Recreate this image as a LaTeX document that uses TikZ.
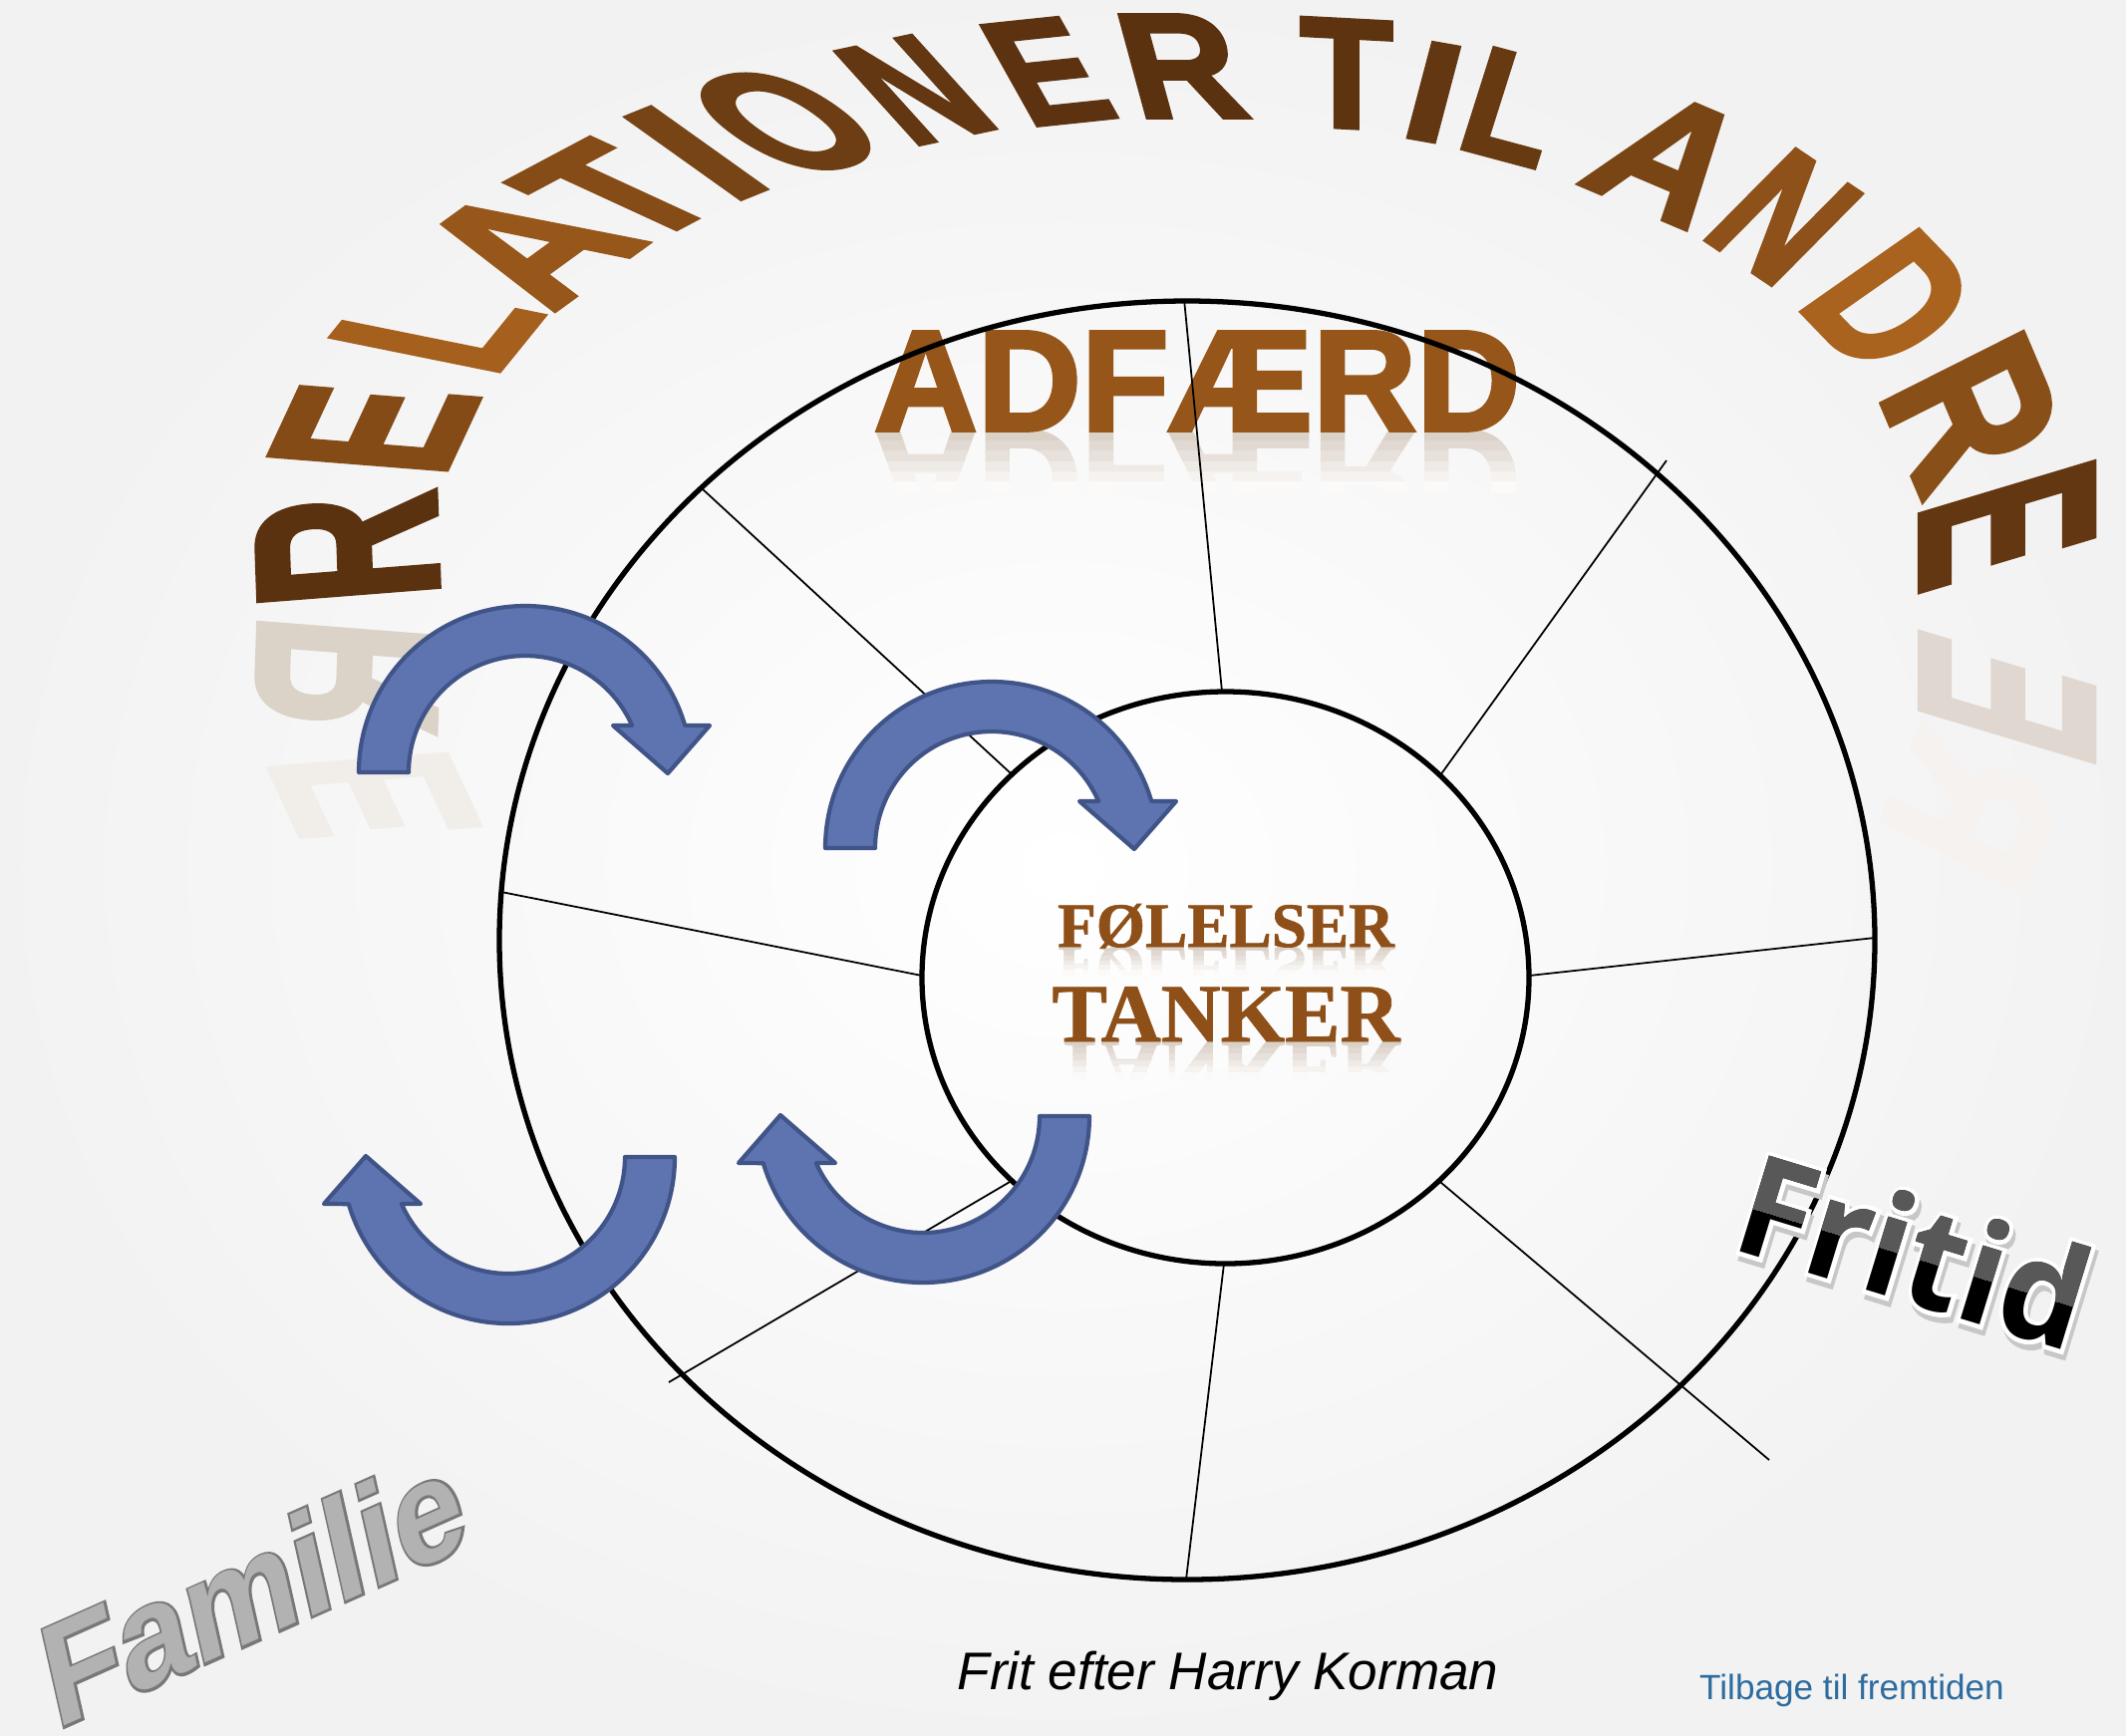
\documentclass[tikz,border=0pt]{standalone}
\usepackage{fontspec}
\setmainfont{Liberation Serif}
\newfontfamily\arialfont{Liberation Sans}
\newfontfamily\archfamily[FakeBold=2.5]{Liberation Sans}
\newfontfamily\boldserif[FakeBold=1]{Liberation Serif}
\newfontfamily\familieedge[FakeBold=3.5]{Liberation Sans}
\newfontfamily\fritidfont{Open Sans}
\newfontfamily\fritidhalo[FakeBold=6]{Open Sans}
\usetikzlibrary{positioning}

\definecolor{titledark}{RGB}{91,50,16}
\definecolor{titlebright}{RGB}{172,100,30}
\definecolor{reflbrown}{RGB}{208,196,183}
\definecolor{wordbrown}{RGB}{150,86,26}
\definecolor{centrebrown}{RGB}{142,80,24}
\definecolor{arrowfill}{RGB}{94,116,177}
\definecolor{arrowline}{RGB}{65,84,136}
\definecolor{familiegray}{RGB}{178,178,178}
\definecolor{familieline}{RGB}{120,120,120}
\definecolor{fritidgray}{RGB}{88,88,88}
\definecolor{linkblue}{RGB}{46,108,160}

\newcommand\titlefont{\archfamily\bfseries\fontsize{40}{40}\selectfont}
\newcommand\adfaerdfont{\archfamily\bfseries\fontsize{41}{42}\selectfont}

% widths of the title letters, taken before the picture
\newcommand\measureletter[1]{%
  \setbox0=\hbox{\titlefont #1}%
  \expandafter\xdef\csname ltw#1\endcsname{\the\wd0}}

% one letter of the arch: char, baseline mid x/y, top mid x/y, baseline angle, width
\newif\ifmirror
\newcommand\archletter[7]{%
  \edef\ltw{\csname ltw#1\endcsname}%
  \pgfmathsetmacro\lta{1.04*#7*0.284528*cos(#6)/\ltw}%
  \pgfmathsetmacro\ltb{1.04*#7*0.284528*sin(#6)/\ltw}%
  \pgfmathsetmacro\ltc{(#4-#2)*0.284528/\lth}%
  \pgfmathsetmacro\ltd{-(#5-#3)*0.284528/\lth}%
  \pgfmathsetmacro\ltx{#2-0.52*#7*cos(#6)}%
  \pgfmathsetmacro\lty{#3+0.52*#7*sin(#6)}%
  \pgfmathsetmacro\ltcy{(#3+#5)/2}%
  \ifmirror
    \pgfmathtruncatemacro\ltpc{max(0,min(100,100-(614-\ltcy)/2.6))}%
    \colorlet{lettercol}{reflbrown!\ltpc!white}%
  \else
    \pgfmathtruncatemacro\ltpc{min(100,abs(\ltcy-310)/2.4)}%
    \colorlet{lettercol}{titledark!\ltpc!titlebright}%
  \fi
  \ifnum\ltpc>0
  \begin{scope}[shift={(\ltx,\lty)}, cm={\lta,\ltb,\ltc,\ltd,(0,0)}]
    \node[anchor=base west, inner sep=0pt, transform shape, text=lettercol, font=\titlefont] at (0,0) {#1};
  \end{scope}
  \fi}

\newcommand\titleletters{%
  \archletter{R}{438}{545}{259}{559}{92}{106}
  \archletter{E}{463}{438}{286}{424}{65}{91}
  \archletter{L}{521}{347}{353}{313}{51}{83}
  \archletter{A}{603}{278}{456}{217}{36}{120}
  \archletter{T}{688}{225}{549}{161}{28}{97}
  \archletter{I}{755}{195}{640}{113}{22}{50}
  \archletter{O}{849}{165}{727}{79}{17}{110}
  \archletter{N}{960}{137}{876}{44}{12}{93}
  \archletter{E}{1078}{122}{1022}{22}{6}{92}
  \archletter{R}{1198}{118}{1170}{15}{0}{112}
  \archletter{T}{1350}{128}{1350}{20}{-3}{90}
  \archletter{I}{1425}{140}{1450}{45}{-10}{48}
  \archletter{L}{1500}{158}{1532}{57}{-15}{86}
  \archletter{A}{1637}{207}{1713}{110}{-23}{121}
  \archletter{N}{1744}{263}{1834}{172}{-34}{95}
  \archletter{D}{1838}{344}{1955}{262}{-46}{105}
  \archletter{R}{1907}{449}{2048}{378}{-67}{116}
  \archletter{E}{1927}{552}{2100}{500}{-90}{90}}

% fading mirror image of a word: x, baseline y, depth, font, text
\newcommand\reflectword[5]{%
  \foreach \k in {0,...,5}{%
    \pgfmathsetmacro\rwt{#2+\k*#3/6}%
    \pgfmathsetmacro\rwb{#2+(\k+1)*#3/6+0.6}%
    \pgfmathtruncatemacro\rwp{78-14*\k}%
    \begin{scope}
      \clip (#1-420,\rwt) rectangle (#1+420,\rwb);
      \node[wordart, yscale=-1, text=reflbrown!\rwp!white, font=#4] at (#1,#2) {#5};
    \end{scope}}}

\tikzset{
  ring/.style={draw=black, line width=1.5pt},
  spoke/.style={draw=black, line width=0.5pt},
  wordart/.style={inner sep=0pt, anchor=base, text=wordbrown},
  arrowbody/.style={fill=arrowfill, draw=arrowline, line width=1.2pt, line join=round},
  turn arrow/.pic={
    \path[arrowbody] (180:167) arc[start angle=180, end angle=343.6, radius=167]
      -- (185,-47) -- (143,1) -- (88,-47) -- (336.3:117)
      arc[start angle=336.3, end angle=180, radius=117] -- cycle;
  }
}

\begin{document}
\measureletter{R}\measureletter{E}\measureletter{L}\measureletter{A}\measureletter{T}%
\measureletter{I}\measureletter{O}\measureletter{N}\measureletter{D}%
\setbox2=\hbox{\titlefont H}\xdef\lth{\the\ht2}%
\begin{tikzpicture}[x=0.01cm, y=-0.01cm]
\useasboundingbox (0,0) rectangle (2133,1741);
\shade[inner color=white, outer color=black!5] (0,0) rectangle (2133,1741);

% title on the arch and its mirror image
\begin{scope}[shift={(0,1228)}, yscale=-1]
  \mirrortrue
  \titleletters
\end{scope}
\titleletters

% ADFÆRD with reflection
\reflectword{1201}{432}{62}{\adfaerdfont}{ADFÆRD}
\node[wordart, font=\adfaerdfont] (adfaerd) at (1201,432) {ADFÆRD};

% the wheel
\coordinate (rim) at (1191,943.5);
\coordinate (hub) at (1229.5,981);
\draw[ring] (rim) ellipse [x radius=690, y radius=641.5];
\draw[ring] (hub) ellipse [x radius=304.5, y radius=287];

\coordinate (o1) at (1188,300);  \coordinate (i1) at (1226,694);
\coordinate (o2) at (704,490);   \coordinate (i2) at (1014,776);
\coordinate (o3) at (1672,462);  \coordinate (i3) at (1445,778);
\coordinate (o4) at (503,895);   \coordinate (i4) at (925,979);
\coordinate (o5) at (1881,941);  \coordinate (i5) at (1534,979);
\coordinate (o6) at (671,1387);  \coordinate (i6) at (1013,1186);
\coordinate (o7) at (1190,1585); \coordinate (i7) at (1228,1268);
\coordinate (o8) at (1775,1465); \coordinate (i8) at (1445,1186);
\draw[spoke] (i1) -- (o1);
\draw[spoke] (i2) -- (o2);
\draw[spoke] (i3) -- (o3);
\draw[spoke] (i4) -- (o4);
\draw[spoke] (i5) -- (o5);
\draw[spoke] (i6) -- (o6);
\draw[spoke] (i7) -- (o7);
\draw[spoke] (i8) -- (o8);

% curved arrows
\pic at (527,775) {turn arrow};
\pic at (995,851) {turn arrow};
\pic[rotate=180] at (510,1161) {turn arrow};
\pic[rotate=180] at (926,1120) {turn arrow};

% centre words
\reflectword{1230}{950}{28}{\boldserif\bfseries\fontsize{18}{18}\selectfont}{FØLELSER}
\node[wordart, text=centrebrown, font=\boldserif\bfseries\fontsize{18}{18}\selectfont] (folelser) at (1230,950) {FØLELSER};
\reflectword{1230}{1045}{38}{\boldserif\bfseries\fontsize{23.6}{24}\selectfont}{TANKER}
\node[wordart, text=centrebrown, font=\boldserif\bfseries\fontsize{23.6}{24}\selectfont] (tanker) at (1230,1045) {TANKER};

% side words
\node[anchor=base, inner sep=0pt, rotate=24, xslant=0.2, xscale=0.94, text=familieline,
  font=\familieedge\bfseries\fontsize{40}{40}\selectfont] (familieedge) at (265,1643) {Familie};
\node[anchor=base, inner sep=0pt, rotate=24, xslant=0.2, xscale=0.94, text=familiegray,
  font=\arialfont\bfseries\fontsize{40}{40}\selectfont] (familie) at (265,1643) {Familie};
\begin{scope}[shift={(1906,1305)}, rotate=-17, xscale=0.95]
  \node[anchor=base, inner sep=0pt, transform shape, text=black!22,
    font=\fritidhalo\bfseries\fontsize{40}{40}\selectfont] (fritidshadow) at (4,5) {Fritid};
  \node[anchor=base, inner sep=0pt, transform shape, text=white,
    font=\fritidhalo\bfseries\fontsize{40}{40}\selectfont] (fritidhalo) at (0,0) {Fritid};
  \node[anchor=base, inner sep=0pt, transform shape, text=black,
    font=\fritidfont\bfseries\fontsize{40}{40}\selectfont] (fritid) at (0,0) {Fritid};
  \clip (-260,-45) rectangle (260,-200);
  \node[anchor=base, inner sep=0pt, transform shape, text=fritidgray,
    font=\fritidfont\bfseries\fontsize{40}{40}\selectfont] (fritidtop) at (0,0) {Fritid};
\end{scope}

% footer
\node[anchor=base, inner sep=0pt, font=\arialfont\itshape\fontsize{15.1}{16}\selectfont] (credit) at (1232,1695) {Frit efter Harry Korman};
\node[anchor=base, inner sep=0pt, text=linkblue, font=\arialfont\fontsize{10}{11}\selectfont] (backlink) at (1858,1705) {Tilbage til fremtiden};
\end{tikzpicture}
\end{document}
